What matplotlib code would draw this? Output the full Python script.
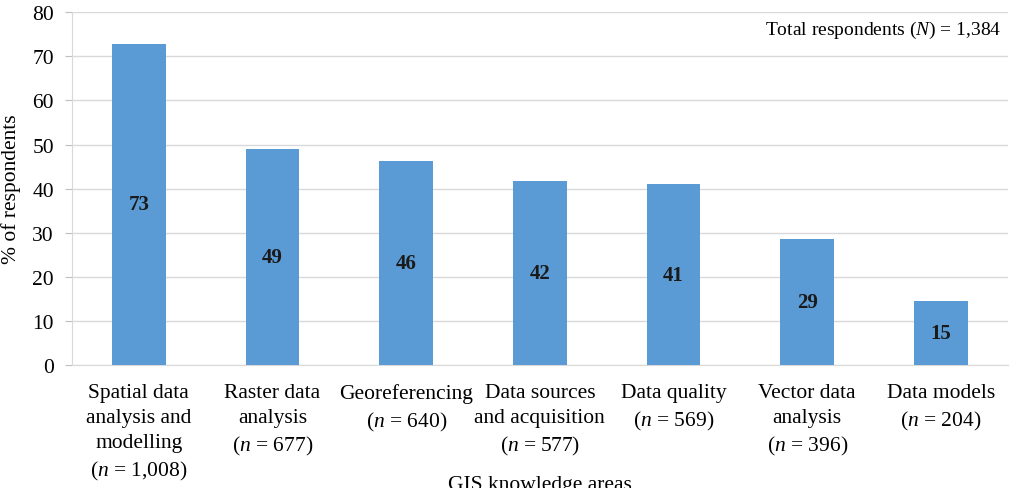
#!/usr/bin/env python3
import matplotlib
matplotlib.use("Agg")
import matplotlib.pyplot as plt
import numpy as np

plt.rcParams["font.family"] = ["Liberation Serif", "DejaVu Serif"]
plt.rcParams["mathtext.fontset"] = "custom"
plt.rcParams["mathtext.rm"] = "Liberation Serif"
plt.rcParams["mathtext.it"] = "Liberation Serif:italic"

areas = ["Spatial data\nanalysis and\nmodelling", "Raster data\nanalysis",
         "Georeferencing", "Data sources\nand acquisition", "Data quality",
         "Vector data\nanalysis", "Data models"]
n_resp = ["1,008", "677", "640", "577", "569", "396", "204"]
percent = [72.9, 48.9, 46.2, 41.8, 41.0, 28.6, 14.6]
shown = [73, 49, 46, 42, 41, 29, 15]
total_n = "1,384"

labels = [a + "\n(" + r"$\it{n}$" + " = " + n + ")" for a, n in zip(areas, n_resp)]
x = np.arange(len(areas))

fig = plt.figure(figsize=(10.21, 4.89), dpi=100)
ax = fig.add_axes([0.0705, 0.2515, 0.9165, 0.7215])
ax.bar(x, percent, width=0.4, color="#5B9BD5", zorder=3)
for xi, p, s in zip(x, percent, shown):
    ax.text(xi, p / 2, str(s), ha="center", va="center", fontsize=15,
            fontweight="bold", color="#1a1a1a", zorder=4)

ax.set_xlim(-0.5, len(areas) - 0.5)
ax.set_ylim(0, 80)
ax.set_yticks(np.arange(0, 81, 10))
ax.yaxis.grid(True, color="#D9D9D9", linewidth=1, zorder=0)
ax.set_xticks(x)
ax.set_xticklabels(labels, fontsize=15.5, linespacing=1.42)
ax.tick_params(axis="x", length=0, pad=13)
ax.tick_params(axis="y", length=5, color="#BFBFBF", labelsize=15.5, pad=8)
for side in ["top", "right"]:
    ax.spines[side].set_visible(False)
for side in ["left", "bottom"]:
    ax.spines[side].set_color("#D9D9D9")

ax.set_ylabel("% of respondents", fontsize=15.5, labelpad=8)
ax.set_xlabel("GIS knowledge areas", fontsize=15.5)
ax.xaxis.set_label_coords(0.5, -0.312)
ax.text(0.993, 0.952, "Total respondents (" + r"$\it{N}$" + ") = " + total_n,
        transform=ax.transAxes, ha="right", va="center", fontsize=14)

plt.savefig("out.png", dpi=100)
